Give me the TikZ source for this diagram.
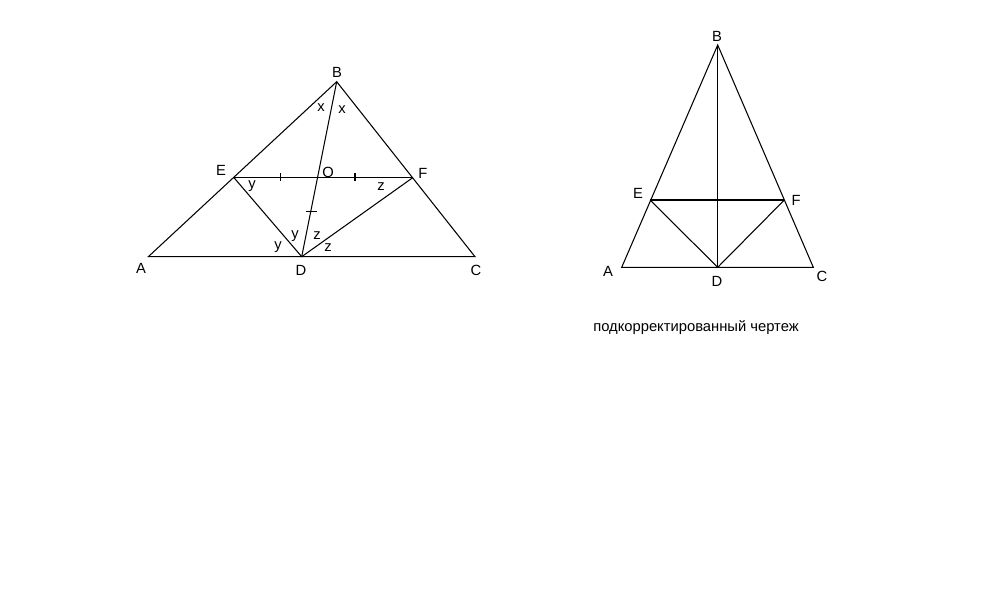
\documentclass[tikz,border=0pt]{standalone}
\usepackage{fontspec}
\setmainfont{Liberation Sans}
\usetikzlibrary{positioning}

\begin{document}
\begin{tikzpicture}[x=0.02cm,y=-0.02cm,line width=0.6pt,
    lbl/.style={inner sep=0pt,font=\fontsize{8.4}{10}\selectfont}]

            \useasboundingbox (0,0) rectangle (1000,600);

            % first drawing
            \path   (336.7,81.7) coordinate (b)
                    (148.3,256.7) coordinate (a)
                    (475,256.7) coordinate (c)
                    (301.7,256.7) coordinate (d)
                    (234,177.7) coordinate (e)
                    (412.7,177.7) coordinate (f);

            \path   (337,72) node (lb) [lbl] {B}
                    (141,268) node (la) [lbl] {A}
                    (476,270) node (lc) [lbl] {C}
                    (301,270) node (ld) [lbl] {D}
                    (221,170) node (le) [lbl] {E}
                    (423,173) node (lf) [lbl] {F}
                    (328,172) node (lo) [lbl] {O}
                    (321,108) node (x1) [lbl] {x}
                    (342,110) node (x2) [lbl] {x}
                    (252,186) node (y1) [lbl] {y}
                    (381,187) node (z1) [lbl] {z}
                    (295,236) node (y2) [lbl] {y}
                    (317,236) node (z2) [lbl] {z}
                    (278,247) node (y3) [lbl] {y}
                    (328,248) node (z3) [lbl] {z};

            \draw (a) -- (b) -- (c) -- cycle;
            \draw (e) -- (f);
            \draw (b) -- (d);
            \draw (e) -- (d) -- (f);
            % equal marks
            \draw (280.7,173.3) -- (280.7,181.3);
            \draw (355,173.3) -- (355,181.3);
            \draw (305.5,211.7) -- (316.5,211.7);

            % corrected drawing
            \path   (717.7,45) coordinate (b2)
                    (621.7,267.3) coordinate (a2)
                    (813.3,267.3) coordinate (c2)
                    (717.7,267.3) coordinate (d2)
                    (650,200) coordinate (e2)
                    (784.3,200) coordinate (f2);

            \path   (717,36) node (lb2) [lbl] {B}
                    (608,271) node (la2) [lbl] {A}
                    (822,276) node (lc2) [lbl] {C}
                    (717,281) node (ld2) [lbl] {D}
                    (638,193) node (le2) [lbl] {E}
                    (796,200) node (lf2) [lbl] {F}
                    (696,328) node (note) [lbl] {подкорректированный чертеж};

            \draw (a2) -- (b2) -- (c2) -- cycle;
            \draw (e2) -- (f2);
            \draw (b2) -- (d2);
            \draw (e2) -- (d2) -- (f2);

\end{tikzpicture}
\end{document}
